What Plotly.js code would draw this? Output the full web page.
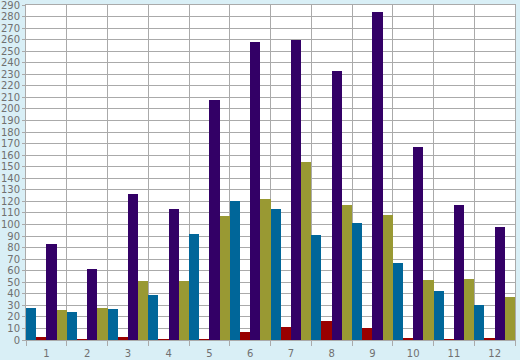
<!DOCTYPE html>
<html><head><meta charset="utf-8">
<script src="https://cdn.plot.ly/plotly-3.0.1.min.js"></script>
<style>html,body{margin:0;padding:0;background:#d9eff6;}#c{width:520px;height:360px;}</style>
</head><body><div id="c"></div>
<script>
const categories = ['1','2','3','4','5','6','7','8','9','10','11','12'];
const seriesBlue   = [28, 24.5, 27, 39, 92, 120, 113, 91, 101.5, 67, 42, 30];
const seriesRed    = [3, 0.5, 3, 1.2, 0.5, 7, 11.5, 16.5, 10, 2, 0.5, 2];
const seriesPurple = [83, 61.5, 126, 113, 208, 258, 260, 233, 284, 167, 117, 98];
const seriesOlive  = [26, 28, 51, 51, 107, 122, 154, 117, 108.5, 52, 53, 37.5];
const yTicks = [];
for (let v = 0; v <= 290; v += 10) yTicks.push(v);

const colors = ['#006699', '#990000', '#330066', '#999933'];
const data = [seriesBlue, seriesRed, seriesPurple, seriesOlive].map((ys, i) => ({
  type: 'bar', x: categories, y: ys, marker: {color: colors[i], line: {width: 0}},
  hoverinfo: 'none'
}));

const layout = {
  width: 520, height: 360,
  margin: {l: 26, r: 5, t: 5, b: 20, pad: 0},
  paper_bgcolor: '#d9eff6', plot_bgcolor: '#ffffff',
  showlegend: false, barmode: 'group', bargap: 0, bargroupgap: 0,
  font: {family: 'DejaVu Sans, sans-serif', size: 10, color: '#707070'},
  xaxis: {
    type: 'category', tickson: 'boundaries', ticks: 'outside', ticklen: 5, tickcolor: '#aaaaaa',
    showgrid: true, gridcolor: '#aaaaaa', gridwidth: 1,
    showline: true, linecolor: '#aaaaaa', linewidth: 1, mirror: true,
    tickfont: {family: 'DejaVu Sans, sans-serif', size: 10, color: '#707070'},
    ticklabelstandoff: 4,
    zeroline: false, fixedrange: true
  },
  yaxis: {
    range: [0, 290], tickvals: yTicks, ticktext: yTicks.map(String),
    ticks: 'outside', ticklen: 3, tickcolor: '#aaaaaa',
    showgrid: true, gridcolor: '#aaaaaa', gridwidth: 1,
    showline: true, linecolor: '#aaaaaa', linewidth: 1, mirror: true,
    zeroline: false, ticklabelstandoff: 0, ticklabeloverflow: 'allow',
    tickfont: {family: 'DejaVu Sans, sans-serif', size: 10, color: '#707070'},
    fixedrange: true
  }
};
Plotly.newPlot('c', data, layout, {staticPlot: true, displayModeBar: false});
</script></body></html>
